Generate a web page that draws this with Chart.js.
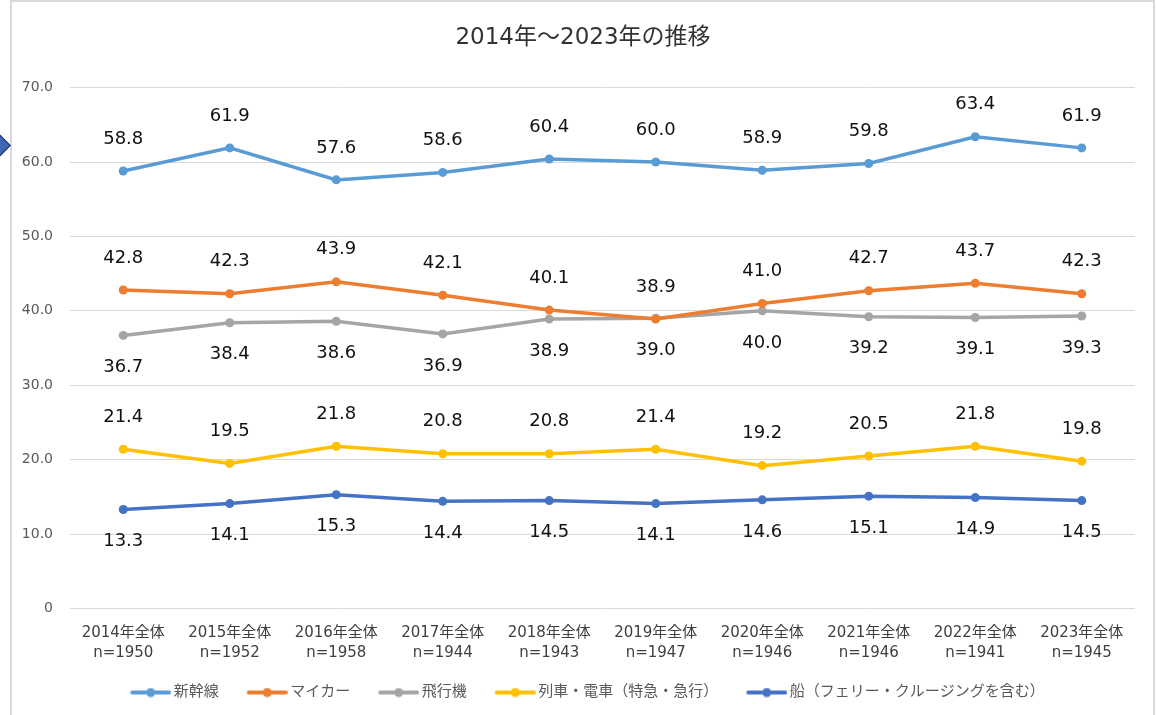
<!DOCTYPE html>
<html lang="ja">
<head>
<meta charset="utf-8">
<title>2014年～2023年の推移</title>
<script src="https://cdn.jsdelivr.net/npm/chart.js@4.4.1/dist/chart.umd.min.js"></script>
<style>
  html, body { margin: 0; padding: 0; background: #fff; }
  body { width: 1156px; height: 715px; position: relative; overflow: hidden; }
  .frame {
    position: absolute; left: 10px; top: 0; width: 1145px; height: 740px;
    border: 2px solid #d9d9d9; border-bottom: none; box-sizing: border-box;
  }
  .arrow {
    position: absolute; left: -12px; top: 136px; width: 17px; height: 17px;
    background: #3f67b6; border: 1px solid #1f3864; transform: rotate(45deg);
  }
  #chart { position: absolute; left: 0; top: 0; }
</style>
</head>
<body>
<div class="frame"></div>
<div class="arrow"></div>
<canvas id="chart" width="1156" height="715"></canvas>
<script>
  // categories + sample sizes (x axis, two lines)
  const categories  = ["2014年全体", "2015年全体", "2016年全体", "2017年全体", "2018年全体",
                       "2019年全体", "2020年全体", "2021年全体", "2022年全体", "2023年全体"];
  const sampleSizes = ["n=1950", "n=1952", "n=1958", "n=1944", "n=1943",
                       "n=1947", "n=1946", "n=1946", "n=1941", "n=1945"];

  const seriesNames = ["新幹線", "マイカー", "飛行機", "列車・電車（特急・急行）", "船（フェリー・クルージングを含む）"];

  // values (%)
  const shinkansen = [58.8, 61.9, 57.6, 58.6, 60.4, 60.0, 58.9, 59.8, 63.4, 61.9];
  const myCar      = [42.8, 42.3, 43.9, 42.1, 40.1, 38.9, 41.0, 42.7, 43.7, 42.3];
  const airplane   = [36.7, 38.4, 38.6, 36.9, 38.9, 39.0, 40.0, 39.2, 39.1, 39.3];
  const train      = [21.4, 19.5, 21.8, 20.8, 20.8, 21.4, 19.2, 20.5, 21.8, 19.8];
  const ship       = [13.3, 14.1, 15.3, 14.4, 14.5, 14.1, 14.6, 15.1, 14.9, 14.5];

  const yTickLabels = ["0", "10.0", "20.0", "30.0", "40.0", "50.0", "60.0", "70.0"];

  const seriesColors = ["#5B9BD5", "#ED7D31", "#A5A5A5", "#FFC000", "#4472C4"];
  const labelSides   = ["above", "above", "below", "above", "below"];

  const FONT = '"DejaVu Sans", "Noto Sans CJK JP", sans-serif';

  // legend marker: line + dot, pushed to the right side of a wider box
  const BOX_W = 56, OVER = 5;
  function legendMarker(color) {
    const c = document.createElement("canvas");
    c.width = BOX_W + 2 * OVER; c.height = 10;
    const g = c.getContext("2d");
    const x1 = c.width - 2, x0 = x1 - 37;
    g.strokeStyle = color; g.lineWidth = 4; g.lineCap = "round";
    g.beginPath(); g.moveTo(x0, 5); g.lineTo(x1, 5); g.stroke();
    g.fillStyle = color;
    g.beginPath(); g.arc((x0 + x1) / 2, 5, 4.5, 0, Math.PI * 2); g.fill();
    return c;
  }
  const markers = seriesColors.map(legendMarker);

  // value labels above / below each point
  const valueLabels = {
    id: "valueLabels",
    afterLayout(chart) {
      // centre the title on the frame rather than on the padded box
      if (chart.titleBlock) chart.titleBlock.left += 11;
    },
    afterDatasetsDraw(chart) {
      const ctx = chart.ctx;
      ctx.save();
      ctx.font = "18px " + FONT;
      ctx.fillStyle = "#111";
      ctx.textAlign = "center";
      ctx.textBaseline = "middle";
      chart.data.datasets.forEach((ds, i) => {
        const dir = ds.labelSide === "below" ? 1 : -1;
        chart.getDatasetMeta(i).data.forEach((pt, j) => {
          ctx.fillText(ds.data[j].toFixed(1), pt.x, pt.y + dir * 32);
        });
      });
      ctx.restore();
    }
  };

  const allSeries = [shinkansen, myCar, airplane, train, ship];

  new Chart(document.getElementById("chart"), {
    type: "line",
    data: {
      labels: categories.map((c, i) => [c, sampleSizes[i]]),
      datasets: allSeries.map((vals, i) => ({
        label: seriesNames[i],
        data: vals,
        borderColor: seriesColors[i],
        backgroundColor: seriesColors[i],
        pointBackgroundColor: seriesColors[i],
        pointBorderWidth: 0,
        pointRadius: 4.5,
        borderWidth: 3.5,
        tension: 0,
        fill: false,
        labelSide: labelSides[i]
      }))
    },
    options: {
      responsive: false,
      animation: false,
      devicePixelRatio: 1,
      layout: { padding: { left: 20, right: 21, top: 0, bottom: 5 } },
      plugins: {
        tooltip: { enabled: false },
        title: {
          display: true,
          text: "2014年～2023年の推移",
          color: "#333",
          font: { size: 23, weight: "normal", family: FONT },
          padding: { top: 24, bottom: 36 }
        },
        legend: {
          position: "bottom",
          labels: {
            usePointStyle: true,
            pointStyleWidth: BOX_W,
            padding: 8,
            color: "#595959",
            font: { size: 15, family: FONT },
            generateLabels(chart) {
              const items = Chart.defaults.plugins.legend.labels.generateLabels(chart);
              items.forEach((it, i) => { it.pointStyle = markers[i]; });
              return items;
            }
          }
        }
      },
      scales: {
        x: {
          offset: true,
          grid: { display: false, drawTicks: false },
          border: { display: false },
          ticks: {
            color: "#404040",
            padding: 14,
            maxRotation: 0,
            font: { size: 15, family: FONT, lineHeight: 1.35 }
          }
        },
        y: {
          min: 0,
          max: 70,
          afterFit(s) { s.width = 50; },
          grid: { color: "#d9d9d9", lineWidth: 1, drawTicks: false },
          border: { display: false },
          ticks: {
            stepSize: 10,
            padding: 17,
            color: "#595959",
            font: { size: 14, family: FONT },
            callback: (v, i) => yTickLabels[i]
          }
        }
      }
    },
    plugins: [valueLabels]
  });
</script>
</body>
</html>
